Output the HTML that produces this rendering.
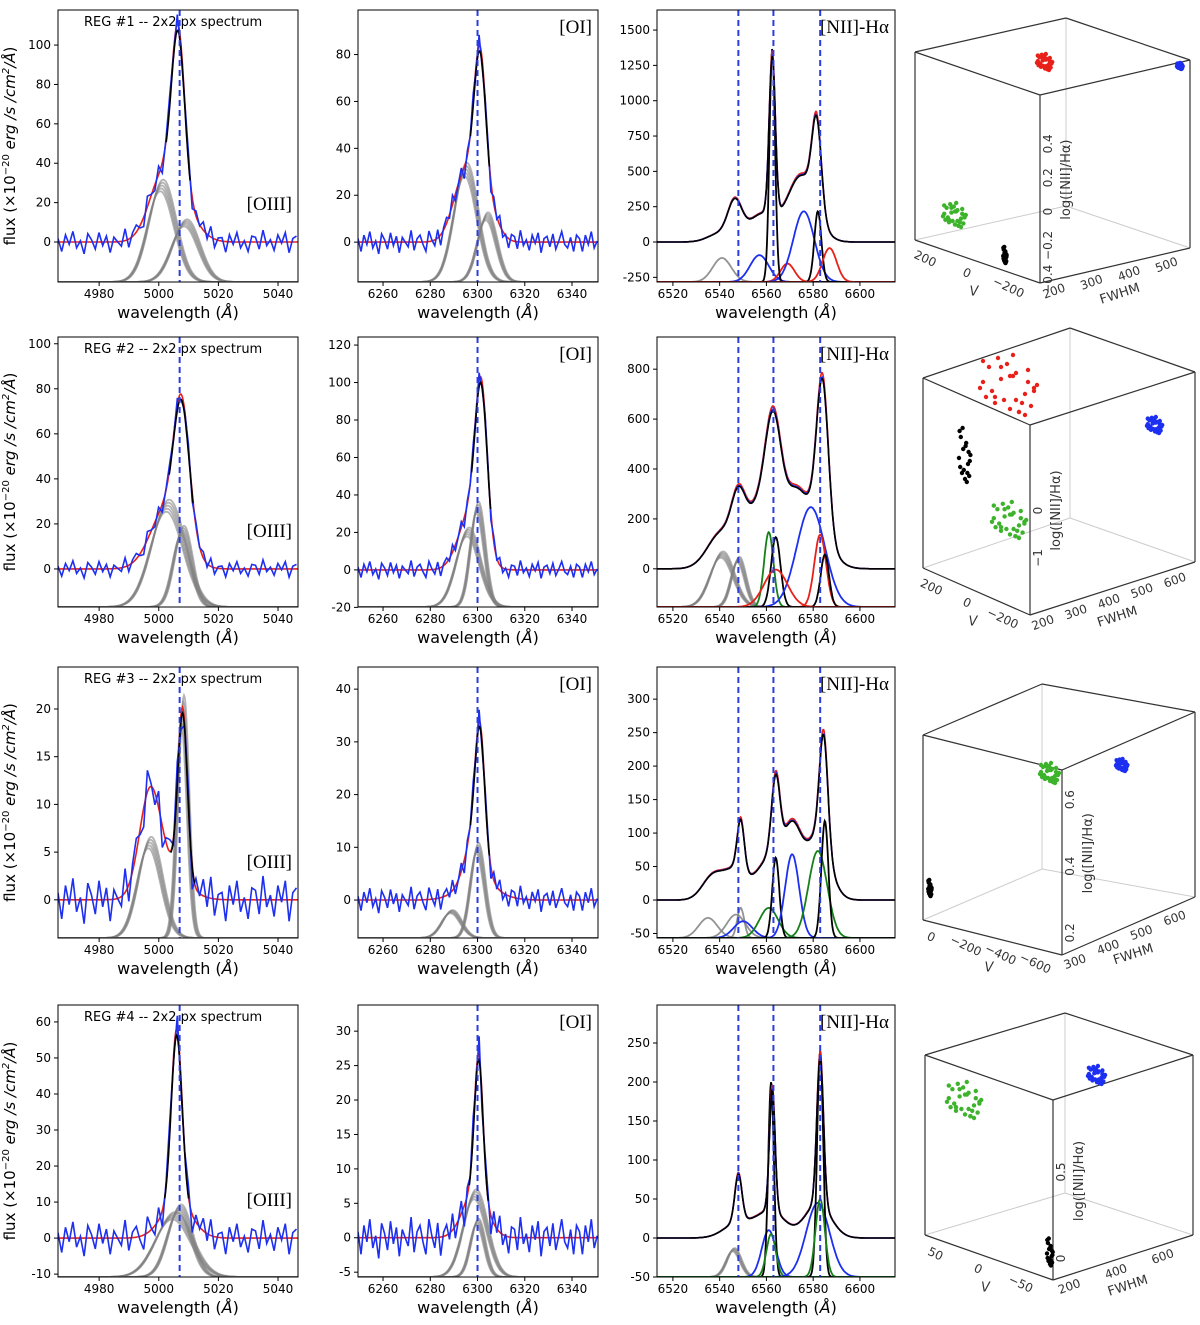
<!DOCTYPE html>
<html><head><meta charset="utf-8"><style>
html,body{margin:0;padding:0;background:#fff}
svg{display:block;font-family:"DejaVu Sans","Liberation Sans",sans-serif}
</style></head><body>
<svg id="fig" width="1200" height="1325" viewBox="0 0 1200 1325" xmlns="http://www.w3.org/2000/svg"></svg>
<script>
// ---------------- data ----------------
const noiseVals=[0.3,-0.8,0.6,-0.2,0.9,-0.5,0.1,-1.0,0.7,0.2,-0.6,0.8,-0.3,0.5,-0.9,0.4,0.0,-0.4,1.0,-0.7,0.3,0.6,-0.2,-0.8,0.9,0.1,-0.5,0.7,-0.9,0.2,0.5,-0.3,0.8,-0.6,0.0,0.6,-1.0,0.4,-0.1,0.7,-0.4,0.9,-0.7,0.2,0.3,-0.9,0.6,-0.2,0.8,-0.5,0.1,-0.8,0.5,0.4,-0.6,1.0,-0.3,0.2,-0.7,0.6,-0.1,0.8,-0.9,0.3,0.5,-0.4,0.7,-0.6,0.1,0.9,-0.2,-0.5,0.4,-0.8,0.6];
const greyJitter=[-1.2,-0.6,0,0.6,1.2];

// model components: [amplitude, centre, sigma]
const r1c1Model=[[82,5006.5,2.2],[30,5001,4.5],[15,5008,5]];
const r1c2Model=[[62,6301,2.5],[30,6295,5],[12,6305,4]];
const r1c3Model=[[260,6546.5,3],[1150,6562.5,1.3],[200,6558,6],[650,6581.5,2],[480,6575,6],[60,6540,5]];
const r2c1Model=[[47,5007.5,2.5],[28,5003,5.5],[12,5009,3]];
const r2c2Model=[[68,6301.5,2.5],[30,6297,5],[15,6302,3]];
const r2c3Model=[[200,6548,3],[150,6541,6],[230,6556,5],[520,6563,3.5],[150,6571,4],[250,6578,7],[610,6584,2.5]];
const r3c1Model=[[18,5008,1.6],[10,4997,3.5],[3,5003,6]];
const r3c2Model=[[22,6301,2],[10,6299,4],[3,6300,8]];
const r3c3Model=[[35,6537,4.5],[78,6549,1.5],[45,6547,5],[120,6564,1.8],[105,6571,4],[60,6561,5],[170,6584.5,1.8],[95,6582,5]];
const r4c1Model=[[48,5006,1.8],[10,5006,5]];
const r4c2Model=[[20,6300.5,1.8],[7,6299,5]];
const r4c3Model=[[62,6548,1.5],[20,6548,6],[160,6562.5,1.2],[35,6562,6],[195,6583,1.4],[45,6582,5.5]];

// sub-components drawn from bottom: [height, centre, sigma, colour, bundle]
const r1c1Comps=[[49,5001,4.5,'grey',1],[30,5009,4.5,'grey',1]];
const r1c2Comps=[[48,6295,5,'grey',1],[28,6304,4,'grey',1]];
const r1c3Comps=[[170,6541,4,'grey',0],[190,6557,4,'blue',0],[130,6569,3,'red',0],[500,6576,4.5,'blue',0],[1650,6562.5,1.2,'black',0],[500,6582,1.5,'black',0],[240,6587,3,'red',0]];
const r2c1Comps=[[45,5003,5.5,'grey',1],[34,5008,3,'grey',1]];
const r2c2Comps=[[53,6300,3,'grey',1],[40,6296,5,'grey',1]];
const r2c3Comps=[[210,6541,5,'grey',1],[190,6548,3,'grey',1],[300,6561,2,'green',0],[280,6564,2,'black',0],[400,6579,6,'blue',0],[290,6583,2.5,'red',0],[210,6585,1.8,'black',0],[150,6564,5,'red',0]];
const r3c1Comps=[[10,4997,4,'grey',1],[24,5008,1.8,'grey',1]];
const r3c2Comps=[[17,6300,3,'grey',1],[5,6289,4,'grey',1]];
const r3c3Comps=[[30,6535,4,'grey',0],[35,6547,4,'grey',0],[45,6549,1.5,'grey',0],[25,6550,4,'blue',0],[45,6561,4,'green',0],[120,6564,1.5,'black',0],[125,6571,3,'blue',0],[130,6582,4,'green',0],[175,6585,1.5,'black',0]];
const r4c1Comps=[[19,5007,4,'grey',1],[17,5005,6,'grey',1]];
const r4c2Comps=[[12,6299,5,'grey',1],[8,6300,3,'grey',1]];
const r4c3Comps=[[35,6546,3,'grey',1],[60,6561,3,'blue',0],[250,6562,1.2,'black',0],[55,6562,2,'green',0],[95,6582,5,'blue',0],[290,6583,1.3,'black',0],[100,6583,2,'green',0]];

const col1Ticks=[4980,5000,5020,5040];
const col2Ticks=[6260,6280,6300,6320,6340];
const col3Ticks=[6520,6540,6560,6580,6600];
const r1c1Y=[0,20,40,60,80,100], r1c2Y=[0,20,40,60,80], r1c3Y=[-250,0,250,500,750,1000,1250,1500];
const r2c1Y=[0,20,40,60,80,100], r2c2Y=[-20,0,20,40,60,80,100,120], r2c3Y=[0,200,400,600,800];
const r3c1Y=[0,5,10,15,20], r3c2Y=[0,10,20,30,40], r3c3Y=[-50,0,50,100,150,200,250,300];
const r4c1Y=[-10,0,10,20,30,40,50,60], r4c2Y=[-5,0,5,10,15,20,25,30], r4c3Y=[-50,0,50,100,150,200,250];
const col1Dash=[5007], col2Dash=[6300], col3Dash=[6548,6563,6583];

// ---------------- layout ----------------
const rowsY=[[10,282],[337,607],[667,938],[1005,1277]];
const colsX=[[58,298],[358,598],[657,895]];
const colsXlim=[[4966.2,5046.7],[6249.4,6351],[6513.2,6615]];
const ylims=[[[-20.3,117.8],[-17,99],[-283,1642]],[[-16.9,103],[-19.8,124.3],[-153,929]],[[-4,24.4],[-7.2,44.2],[-56.7,348]],[[-10.8,64.7],[-5.7,33.8],[-50,298.7]]];
const models=[[r1c1Model,r1c2Model,r1c3Model],[r2c1Model,r2c2Model,r2c3Model],[r3c1Model,r3c2Model,r3c3Model],[r4c1Model,r4c2Model,r4c3Model]];
const comps=[[r1c1Comps,r1c2Comps,r1c3Comps],[r2c1Comps,r2c2Comps,r2c3Comps],[r3c1Comps,r3c2Comps,r3c3Comps],[r4c1Comps,r4c2Comps,r4c3Comps]];
const yticks=[[r1c1Y,r1c2Y,r1c3Y],[r2c1Y,r2c2Y,r2c3Y],[r3c1Y,r3c2Y,r3c3Y],[r4c1Y,r4c2Y,r4c3Y]];
const xticksAll=[col1Ticks,col2Ticks,col3Ticks];
const dashes=[col1Dash,col2Dash,col3Dash];
const noiseScale=[[6,5,0],[4,5,0],[2.5,2.5,0],[5,3,0]];
const colorMap={grey:'#808080',blue:'#1d2ff0',red:'#e8201a',black:'#000',green:'#15801a'};

const NS='http://www.w3.org/2000/svg';
const svg=document.getElementById('fig');
function el(tag,attrs,parent){const e=document.createElementNS(NS,tag);for(const k in attrs)e.setAttribute(k,attrs[k]);(parent||svg).appendChild(e);return e;}
function gauss(x,a,c,s){return a*Math.exp(-0.5*((x-c)/s)*((x-c)/s));}
function modelAt(m,x){let s=0;for(const c of m)s+=gauss(x,c[0],c[1],c[2]);return s;}

for(let r=0;r<4;r++){
  for(let c=0;c<3;c++){
    const [x0,x1]=colsX[c],[y0,y1]=rowsY[r];
    const [xa,xb]=colsXlim[c],[ya,yb]=ylims[r][c];
    const sx=v=>x0+(v-xa)/(xb-xa)*(x1-x0);
    const sy=v=>y1-(v-ya)/(yb-ya)*(y1-y0);
    const g=el('g',{});
    
    
    const cid='clip'+r+c;
    const cp=el('clipPath',{id:cid},g);el('rect',{x:x0,y:y0,width:x1-x0,height:y1-y0},cp);
    const plot=el('g',{'clip-path':'url(#'+cid+')'},g);
    const m=models[r][c];
    for(const cm of comps[r][c]){
      const offs=cm[4]?greyJitter:[0];
      for(const o of offs){
        let d='';
        for(let x=xa;x<=xb;x+=0.25){d+=(d?'L':'M')+sx(x).toFixed(1)+','+sy(ya+gauss(x,cm[0]*(1+o*0.05),cm[1]+o*0.4,cm[2])).toFixed(1);}
        const p=el('path',{d:d,fill:'none',stroke:colorMap[cm[3]],'stroke-width':1.8,'stroke-opacity':cm[4]?0.6:(cm[3]==='grey'?0.85:1)},plot);
        
        
      }
    }
    let dm='';for(let x=xa;x<=xb;x+=0.25){dm+=(dm?'L':'M')+sx(x).toFixed(1)+','+sy(modelAt(m,x)).toFixed(1);}
    const pr=el('path',{d:dm,fill:'none',stroke:colorMap.red,'stroke-width':1.6},plot);
    
    
    let dob='';let i=0;
    const step=c<2?1.25:0.6;
    for(let x=xa;x<=xb;x+=step,i++){const v=modelAt(m,x)*(c<2?1:0.98)+noiseVals[i%noiseVals.length]*noiseScale[r][c];dob+=(dob?'L':'M')+sx(x).toFixed(1)+','+sy(v).toFixed(1);}
    const pb=el('path',{d:dob,fill:'none',stroke:colorMap.blue,'stroke-width':1.6},plot);
    
    
    let dk='';
    const pk=m[0][1];
    const lo=c<2?pk-4:xa, hi=c<2?pk+4:xb;
    for(let x=lo;x<=hi;x+=0.25){dk+=(dk?'L':'M')+sx(x).toFixed(1)+','+sy(modelAt(m,x)*0.97).toFixed(1);}
    const pbk=el('path',{d:dk,fill:'none',stroke:'#000','stroke-width':1.6},plot);
    
    
    for(const dx of dashes[c]){
      const l=el('line',{x1:sx(dx),x2:sx(dx),y1:y0,y2:y1,stroke:'#2a3ee0','stroke-width':2,'stroke-dasharray':'6,4'},g);
      
      
    }
    const bx=el('rect',{x:x0,y:y0,width:x1-x0,height:y1-y0,fill:'none',stroke:'#000','stroke-width':1},g);
    
    
    for(const t of xticksAll[c]){
      el('line',{x1:sx(t),x2:sx(t),y1:y1,y2:y1+4,stroke:'#000'},g);
      const tx=el('text',{x:sx(t),y:y1+16,'font-size':12,'text-anchor':'middle'},g);tx.textContent=t;
      
      
    }
    for(const t of yticks[r][c]){
      el('line',{x1:x0-4,x2:x0,y1:sy(t),y2:sy(t),stroke:'#000'},g);
      const ty=el('text',{x:x0-7,y:sy(t)+4,'font-size':12,'text-anchor':'end'},g);ty.textContent=t;
      
      
    }
    const xl=el('text',{x:(x0+x1)/2,y:y1+36,'font-size':16,'text-anchor':'middle'},g);
    xl.innerHTML='wavelength (<tspan font-style="italic">Å</tspan>)';
    
    
    const serif='"Liberation Serif",serif';
    if(c===0){
      const t1=el('text',{x:x0+26,y:y0+16,'font-size':13},g);t1.textContent='REG #'+(r+1)+' -- 2x2 px spectrum';
      
      
      const t2=el('text',{x:x1-6,y:sy(0)-32,'font-size':19,'text-anchor':'end','font-family':serif},g);t2.textContent='[OIII]';
      
      
      const cy=(y0+y1)/2;
      const yl=el('text',{x:0,y:0,'font-size':15,'text-anchor':'middle',transform:'translate(15,'+cy+') rotate(-90)'},g);
      yl.innerHTML='flux (×10<tspan dy="-6" font-size="10">−20</tspan><tspan dy="6"> </tspan><tspan font-style="italic">erg /s /cm</tspan><tspan dy="-6" font-size="10" font-style="italic">2</tspan><tspan dy="6" font-style="italic">/Å</tspan>)';
      
      
    } else {
      const t=el('text',{x:x1-6,y:y0+23,'font-size':19,'text-anchor':'end','font-family':serif},g);
      t.textContent=c===1?'[OI]':'[NII]-Hα';
      
      
    }
  }
}

// ---------------- 3D cubes ----------------
const cubeTL=[[915,52],[923,378],[923,735],[925,1055]];
const cubeTB=[[1066,18],[1070,328],[1042,684],[1065,1013]];
const cubeTR=[[1190,60],[1195,372],[1195,712],[1193,1055]];
const cubeTF=[[1040,95],[1030,425],[1062,770],[1053,1100]];
const cubeH=[188,190,185,180];
const vTicks=[['200','0','−200'],['200','0','−200'],['0','−200','−400','−600'],['50','0','−50']];
const fwhmTicks=[['200','300','400','500'],['200','300','400','500','600'],['300','400','500','600'],['200','400','600']];
const zTicks=[['−0.4','−0.2','0','0.2','0.4'],['−1','0'],['0.2','0.4','0.6'],['0','0.5']];
const zTickFrac=[[0.02,0.2,0.38,0.56,0.74],[0.3,0.55],[0.12,0.48,0.84],[0.12,0.6]];
const clusterCx=[[1045,1180,955,1005],[1010,1155,965,1010],[1050,1122,930,0],[965,1097,1050,0]];
const clusterCy=[[62,66,215,255],[385,425,455,520],[773,765,888,0],[1100,1075,1252,0]];
const clusterSp=[[8,3,12,3],[30,8,10,18],[10,6,3,0],[18,9,5,0]];
const clusterCol=[['red','blue','green','black'],['red','blue','black','green'],['green','blue','black',''],['green','blue','black','']];
const offX=[0.1,-0.5,0.8,-0.9,0.3,0.6,-0.2,-0.7,0.9,0.0,-0.4,0.5,-1.0,0.2,0.7,-0.3,0.4,-0.8,0.1,0.6,-0.6,0.3,-0.1,0.8,-0.5,0.0,0.5,-0.9,0.2,-0.3];
const offY=[-0.3,0.6,0.2,-0.8,0.9,-0.1,0.5,-0.6,0.0,0.8,-0.9,0.3,0.1,-0.4,0.7,-0.2,0.6,0.4,-1.0,-0.5,0.2,0.9,-0.7,0.1,0.4,-0.3,1.0,-0.1,0.5,-0.6];

for(let r=0;r<4;r++){
  const g=el('g',{});
  
  
  const h=cubeH[r];
  const TL=cubeTL[r],TB=cubeTB[r],TR=cubeTR[r],TF=cubeTF[r];
  const BL=[TL[0],TL[1]+h],BB=[TB[0],TB[1]+h],BR=[TR[0],TR[1]+h],BF=[TF[0],TF[1]+h];
  const ln=(a,b,col,w)=>el('line',{x1:a[0],y1:a[1],x2:b[0],y2:b[1],stroke:col,'stroke-width':w},g);
  ln(TB,BB,'#ccc',1);ln(BB,BL,'#ccc',1);ln(BB,BR,'#ccc',1);
  ln(TL,TB,'#333',1.2);ln(TB,TR,'#333',1.2);ln(TR,TF,'#333',1.2);ln(TF,TL,'#333',1.2);
  ln(TL,BL,'#333',1.2);ln(TF,BF,'#333',1.2);ln(TR,BR,'#333',1.2);ln(BL,BF,'#333',1.2);ln(BF,BR,'#333',1.2);
  for(let k=0;k<4;k++){
    const col=clusterCol[r][k];if(!col)continue;
    const n=col==='black'?18:30;
    for(let j=0;j<n;j++){
      const sp=clusterSp[r][k];
      const dot=el('circle',{cx:clusterCx[r][k]+offX[j%30]*sp*(col==='black'?0.6:1),cy:clusterCy[r][k]+offY[j%30]*sp*(col==='black'?3:1),r:2.2,fill:col==='green'?'#3cb32a':colorMap[col]},g);
      
      
    }
  }
  const vt=vTicks[r];
  vt.forEach((t,i)=>{
    const f=(i+0.3)/(vt.length);
    const x=BL[0]+(BF[0]-BL[0])*f-4, y=BL[1]+(BF[1]-BL[1])*f+18;
    const tx=el('text',{x:x,y:y,'font-size':12,fill:'#333','text-anchor':'middle',transform:'rotate(25 '+x+' '+y+')'},g);tx.textContent=t;
    
    
  });
  const mvx=(BL[0]+BF[0])/2-8,mvy=(BL[1]+BF[1])/2+34;
  const vl=el('text',{x:mvx,y:mvy,'font-size':13,fill:'#333','font-style':'italic'},g);vl.textContent='V';
  
  
  const ft=fwhmTicks[r];
  ft.forEach((t,i)=>{
    const f=(i+0.25)/(ft.length);
    const x=BF[0]+(BR[0]-BF[0])*f+6, y=BF[1]+(BR[1]-BF[1])*f+14;
    const tx=el('text',{x:x,y:y,'font-size':12,fill:'#333','text-anchor':'middle',transform:'rotate(-20 '+x+' '+y+')'},g);tx.textContent=t;
    
    
  });
  const fx=(BF[0]+BR[0])/2+6,fy=(BF[1]+BR[1])/2+32;
  const fl=el('text',{x:fx,y:fy,'font-size':13,fill:'#333','text-anchor':'middle',transform:'rotate(-18 '+fx+' '+fy+')'},g);fl.textContent='FWHM';
  
  
  zTicks[r].forEach((t,i)=>{
    const f=zTickFrac[r][i];
    const x=TF[0]+12, y=BF[1]-(h)*f;
    const tx=el('text',{x:x,y:y,'font-size':12,fill:'#333','text-anchor':'middle',transform:'rotate(-90 '+x+' '+y+')'},g);tx.textContent=t;
    
    
  });
  const zx=TF[0]+30,zy=TF[1]+h*0.45;
  const zl=el('text',{x:zx,y:zy,'font-size':13,fill:'#333','text-anchor':'middle',transform:'rotate(-90 '+zx+' '+zy+')'},g);zl.textContent='log([NII]/Hα)';
  
  
}
</script>
</body></html>
